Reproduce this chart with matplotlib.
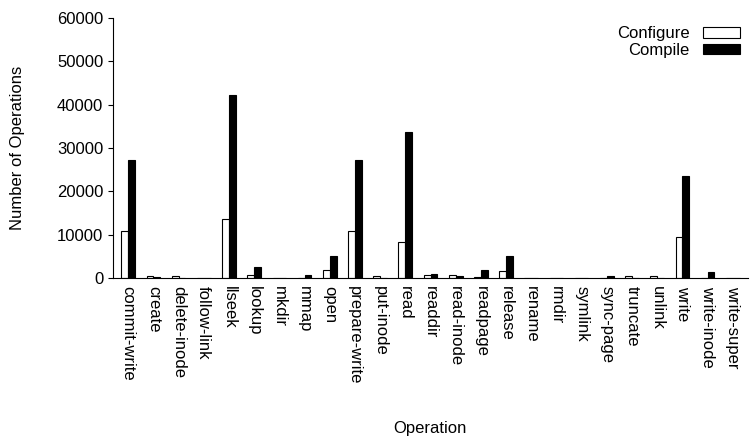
import matplotlib
matplotlib.use("Agg")
import matplotlib.pyplot as plt
import numpy as np

categories = ["commit-write","create","delete-inode","follow-link","llseek","lookup","mkdir","mmap","open",
              "prepare-write","put-inode","read","readdir","read-inode","readpage","release","rename","rmdir",
              "symlink","sync-page","truncate","unlink","write","write-inode","write-super"]
configure = [10800,500,400,50,13600,800,50,100,1800,10800,400,8400,800,700,200,1700,100,50,50,100,400,400,9500,100,50]
compile_ = [27300,300,100,50,42200,2600,50,700,5000,27300,100,33800,1000,500,1800,5000,100,50,50,500,100,100,23500,1300,50]

plt.rcParams['font.family'] = ['Liberation Sans', 'DejaVu Sans']
fig = plt.figure(figsize=(7.56, 4.37), dpi=100)
ax = fig.add_axes([113/756, 1-278/437, (748-113)/756, 260/437])
x = np.arange(len(categories))
w = 0.27
ax.bar(x - w/2, configure, w, color='white', edgecolor='black', linewidth=0.8, label='Configure')
ax.bar(x + w/2, compile_, w, color='black', edgecolor='black', linewidth=0.8, label='Compile')
ax.set_xlim(-0.6, len(categories) - 0.4)
ax.set_ylim(0, 60000)
ax.set_yticks(range(0, 60001, 10000))
ax.set_xticks(x)
ax.set_xticklabels(categories, rotation=-90, fontsize=12)
ax.tick_params(axis='y', labelsize=12)
ax.tick_params(axis='x', length=0, pad=6)
ax.spines['top'].set_visible(False)
ax.spines['right'].set_visible(False)
fig.text(18/756, 1-148/437, 'Number of Operations', fontsize=12, rotation=90, ha='center', va='center')
fig.text(430/756, 1-428/437, 'Operation', fontsize=12, ha='center', va='center')
ax.legend(loc='upper right', frameon=False, fontsize=12, handlelength=2.2, borderaxespad=0.1,
          markerfirst=False, labelspacing=0.1, handleheight=0.6)
fig.savefig('out.png', dpi=100)
